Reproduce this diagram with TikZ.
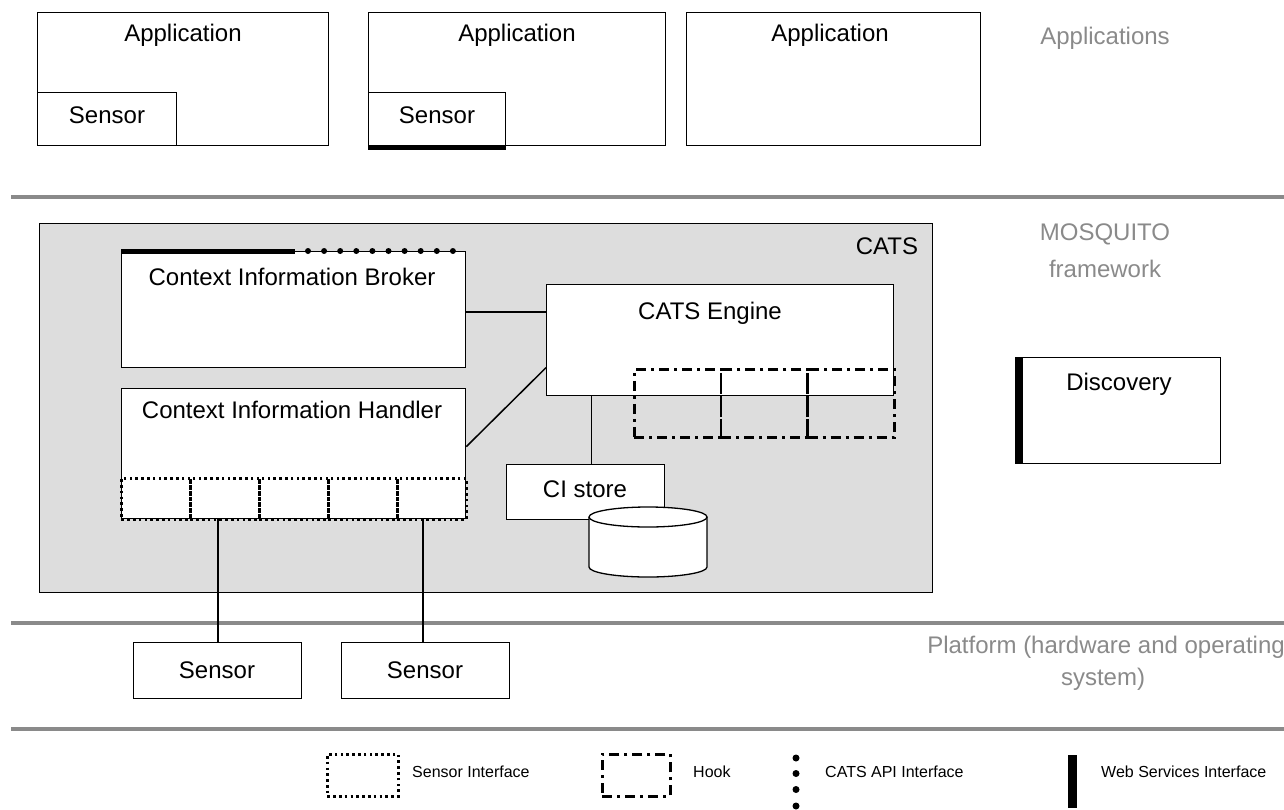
\documentclass[tikz,border=0pt]{standalone}
\usepackage{fontspec}
\setmainfont{Liberation Sans}
\definecolor{layer}{RGB}{138,138,138}
\definecolor{catsfill}{RGB}{221,221,221}
\tikzset{
  box/.style={draw, line width=1.3pt, fill=white, rectangle, inner sep=0pt, anchor=north west},
  lbl/.style={inner sep=0pt, anchor=base, font=\fontsize{24}{28}\selectfont},
  layerlbl/.style={lbl, text=layer},
  small/.style={inner sep=0pt, anchor=base west, font=\fontsize{16}{19}\selectfont},
  layerline/.style={draw=layer, line width=4pt},
  link/.style={line width=1.5pt},
  sif/.style={draw, rectangle, inner sep=0pt, anchor=north west, line width=2.6pt, dash pattern=on 2.6pt off 3.2pt},
  hookbox/.style={draw, rectangle, inner sep=0pt, anchor=north west, line width=2.6pt, dash pattern=on 10pt off 5pt on 3pt off 5pt},
  wsi/.style={line width=5pt},
  apidot/.style={fill=black},
}
\begin{document}
\begin{tikzpicture}[x=1pt, y=-1pt]
\useasboundingbox (0,0) rectangle (1284,809);

% ---------- application layer ----------
\node[box, minimum width=291pt, minimum height=133pt] (app1) at (37,12) {};
\node[box, minimum width=139pt, minimum height=53pt] (sen1) at (37,92) {};
\node[lbl] (app1t) at (183,41.5) {Application};
\node[lbl] (sen1t) at (107,123.5) {Sensor};

\node[box, minimum width=297pt, minimum height=133pt] (app2) at (368,12) {};
\node[box, minimum width=137pt, minimum height=53pt] (sen2) at (368,92) {};
\node[lbl] (app2t) at (517,41.5) {Application};
\node[lbl] (sen2t) at (437,123.5) {Sensor};
\draw[wsi] ([yshift=-1pt]sen2.south west) -- ([yshift=-1pt]sen2.south east);

\node[box, minimum width=294pt, minimum height=133pt] (app3) at (686,12) {};
\node[lbl] (app3t) at (830,41.5) {Application};

\node[layerlbl] (applbl) at (1105,44.5) {Applications};

% ---------- layer separators ----------
\coordinate (l1a) at (11,197);  \coordinate (l1b) at (1284,197);
\coordinate (l2a) at (11,623);  \coordinate (l2b) at (1284,623);
\coordinate (l3a) at (11,729);  \coordinate (l3b) at (1284,729);
\draw[layerline] (l1a) -- (l1b);
\draw[layerline] (l2a) -- (l2b);
\draw[layerline] (l3a) -- (l3b);

\node[layerlbl] (mosq) at (1105,240.5) {MOSQUITO};
\node[layerlbl] (fw) at (1105,277.5) {framework};

% ---------- CATS ----------
\node[box, fill=catsfill, minimum width=893pt, minimum height=369pt] (cats) at (39,223) {};
\node[lbl] (catst) at (887,254.5) {CATS};

\node[box, minimum width=344pt, minimum height=116pt] (broker) at (121,251) {};
\node[lbl] (brokert) at (292,285.5) {Context Information Broker};
\draw[wsi] (broker.north west) -- ++(174,0);
\foreach \k in {0,...,9} \fill[apidot] ({308+16.1*\k},251) circle (3pt);

\node[box, minimum width=347pt, minimum height=111pt] (engine) at (546,284) {};
\node[lbl] (enginet) at (710,319.5) {CATS Engine};

\node[box, minimum width=344pt, minimum height=130pt] (handler) at (121,388) {};
\node[lbl] (handlert) at (292,418.5) {Context Information Handler};

\foreach \i in {0,...,4}
  \node[sif, minimum width=69pt, minimum height=41pt] (sif\i) at ({120+69*\i},477) {};

\foreach \i in {0,1,2}
  \node[hookbox, minimum width=86.7pt, minimum height=68pt] (hook\i) at ({633+86.7*\i},368) {};

\draw[link] (broker.east |- 0,312) -- (engine.west |- 0,312);
\draw[link] ([yshift=7pt]handler.east) -- ([yshift=-27.5pt]engine.west);

% CI store with its database
\node[box, minimum width=158pt, minimum height=55pt] (cistore) at (506,464) {};
\node[lbl] (cistoret) at (585,497.5) {CI store};
\draw[link] ([xshift=6pt]cistore.north) -- ([xshift=6pt]cistore.north |- engine.south);

\coordinate (dbtop) at (648,517);
\fill[white] (589,517) -- (589,567) arc[start angle=180, end angle=0, x radius=59, y radius=10] -- (707,517) -- cycle;
\draw[line width=1.3pt] (589,517) -- (589,567) arc[start angle=180, end angle=0, x radius=59, y radius=10] -- (707,517);
\filldraw[fill=white, line width=1.3pt] (dbtop) ellipse[x radius=59, y radius=10];

% ---------- discovery ----------
\node[box, minimum width=204pt, minimum height=106pt] (disc) at (1016,357) {};
\node[lbl] (disct) at (1119,390.5) {Discovery};
\draw[line width=8pt] ([xshift=3pt]disc.north west) -- ([xshift=3pt]disc.south west);

% ---------- platform ----------
\node[box, minimum width=168pt, minimum height=56pt] (sA) at (133,642) {};
\node[box, minimum width=168pt, minimum height=56pt] (sB) at (341,642) {};
\node[lbl] (sAt) at (217,678.5) {Sensor};
\node[lbl] (sBt) at (425,678.5) {Sensor};
\draw[link] ([xshift=0.5pt]sA.north) -- ([xshift=0.5pt]sA.north |- handler.south);
\draw[link] (sB.north -| 423,0) -- (handler.south -| 423,0);

\node[layerlbl] (plat1) at (1106,653.5) {Platform (hardware and operating};
\node[layerlbl] (plat2) at (1103,685.5) {system)};

% ---------- legend ----------
\node[sif, minimum width=71pt, minimum height=42pt] (legsif) at (326,753) {};
\node[small] (legsift) at (412,777.5) {Sensor Interface};

\node[hookbox, minimum width=68pt, minimum height=42pt] (leghook) at (601,753) {};
\node[small] (leghookt) at (693,777.5) {Hook};

\foreach \yy in {758,773.5,789.5,806} \fill[apidot] (796,\yy) circle (3.5pt);
\node[small] (legapit) at (825,777.5) {CATS API Interface};

\coordinate (wsa) at (1072,755);
\coordinate (wsb) at (1072,808);
\draw[line width=9pt] (wsa) -- (wsb);
\node[small] (legwst) at (1101,777.5) {Web Services Interface};
\end{tikzpicture}
\end{document}
